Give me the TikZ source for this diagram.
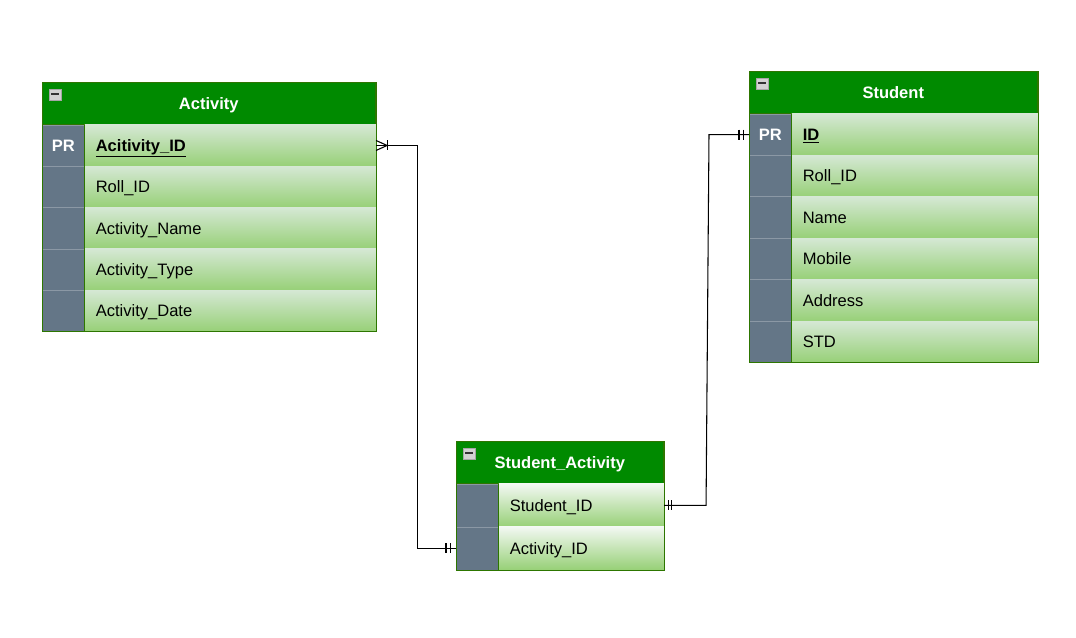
\documentclass[tikz,border=0pt]{standalone}
\usepackage{fontspec}
\setmainfont{Liberation Sans}
\usetikzlibrary{positioning,arrows.meta,calc}
\definecolor{erHead}{HTML}{008A00}
\definecolor{erLine}{HTML}{2D7600}
\definecolor{erKey}{HTML}{647687}
\definecolor{erTop}{HTML}{D5E8D4}
\definecolor{erBot}{HTML}{97D077}
\newcommand{\erpk}[1]{\textbf{\underline{#1}}}
\tikzset{
  erhead/.style={
    draw=erLine, fill=erHead, text=white, font=\fontsize{12.4}{14}\selectfont\bfseries,
    minimum height=31.5pt, inner sep=0pt, text height=8.9pt, text depth=0pt, anchor=north west
  },
  erkey/.style={
    draw=erKey!75!white, fill=erKey, text=white, font=\fontsize{12.4}{14}\selectfont\bfseries,
    minimum width=31.5pt, minimum height=31pt, inner sep=0pt, text height=8.9pt, text depth=0pt, anchor=north west
  },
  erfield/.style={
    top color=erTop, bottom color=erBot, font=\fontsize{12.4}{14}\selectfont,
    minimum height=31pt, inner xsep=8.25pt, inner ysep=0pt, text height=8.9pt, text depth=0pt,
    align=left, anchor=north west
  },
  erframe/.style={draw=erLine, line width=0.6pt},
  minusbox/.style={
    draw=gray!70, fill=gray!35, minimum width=9pt, minimum height=8.25pt, inner sep=0pt
  },
  erlink/.style={draw=black, line width=0.8pt}
}
\begin{document}
\begin{tikzpicture}[x=1pt,y=1pt]
  \useasboundingbox (0,0) rectangle (807,-477.75);

  % Activity table
  \node[erhead, minimum width=249.75pt] (act) at (31.5,-61.5) {Activity};
  \node[minusbox, below right=5pt and 5pt of act.north west] (act-min) {\textcolor{black!80}{\rule[0.2pt]{5.5pt}{1.3pt}}};
  \foreach \k/\f [count=\i] in {PR/\erpk{Acitivity\_ID}, /Roll\_ID, /Activity\_Name, /Activity\_Type, /Activity\_Date} {
    \node[erkey] (act-k\i) at ([yshift={-(\i-1)*31pt}]act.south west) {\k};
    \node[erfield, text width=201.75pt] (act-f\i) at (act-k\i.north east) {\f};
  }
  \draw[erframe] (act.north west) rectangle (act-f5.south east);
  \draw[erframe] (act-k1.north east) -- (act-k5.south east);

  % Student table
  \node[erhead, minimum width=216pt] (stu) at (561.75,-53.25) {Student};
  \node[minusbox, below right=5pt and 5pt of stu.north west] (stu-min) {\textcolor{black!80}{\rule[0.2pt]{5.5pt}{1.3pt}}};
  \foreach \k/\f [count=\i] in {PR/\erpk{ID}, /Roll\_ID, /Name, /Mobile, /Address, /STD} {
    \node[erkey, minimum height=31.1pt] (stu-k\i) at ([yshift={-(\i-1)*31.1pt}]stu.south west) {\k};
    \node[erfield, minimum height=31.1pt, text width=168pt] (stu-f\i) at (stu-k\i.north east) {\f};
  }
  \draw[erframe] (stu.north west) rectangle (stu-f6.south east);
  \draw[erframe] (stu-k1.north east) -- (stu-k6.south east);

  % Student_Activity table
  \node[erhead, minimum width=155.25pt] (sa) at (342,-330.75) {Student\_Activity};
  \node[minusbox, below right=5pt and 5pt of sa.north west] (sa-min) {\textcolor{black!80}{\rule[0.2pt]{5.5pt}{1.3pt}}};
  \foreach \k/\f [count=\i] in {/Student\_ID, /Activity\_ID} {
    \node[erkey, minimum height=32.25pt] (sa-k\i) at ([yshift={-(\i-1)*32.25pt}]sa.south west) {\k};
    \node[erfield, top color=erTop!30!white, minimum height=32.25pt, text width=107.25pt] (sa-f\i) at (sa-k\i.north east) {\f};
  }
  \draw[erframe] (sa.north west) rectangle (sa-f2.south east);
  \draw[erframe] (sa-k1.north east) -- (sa-k2.south east);

  % relations
  \draw[erlink] (act-f1.east) -- ++(30.75,0) |- (sa-k2.west);
  \draw[erlink] (sa-f1.east) -- ++(31.5,0) -- ([xshift=-30pt]stu-k1.west) -- (stu-k1.west);

  % crow's foot at Activity
  \draw[erlink] ([yshift=3.75pt]act-f1.east) -- ([xshift=8.25pt]act-f1.east) -- ([yshift=-3.75pt]act-f1.east);
  \draw[erlink] ([xshift=8.25pt,yshift=3.75pt]act-f1.east) -- ([xshift=8.25pt,yshift=-3.75pt]act-f1.east);

  % double bars
  \foreach \d in {-7.5,-4}
    \draw[erlink] ([xshift=\d pt,yshift=3.75pt]sa-k2.west) -- ([xshift=\d pt,yshift=-3.75pt]sa-k2.west);
  \foreach \d in {-7.5,-4.25}
    \draw[erlink] ([xshift=\d pt,yshift=3.75pt]stu-k1.west) -- ([xshift=\d pt,yshift=-3.75pt]stu-k1.west);
  \foreach \d in {3,5.5}
    \draw[erlink] ([xshift=\d pt,yshift=3.75pt]sa-f1.east) -- ([xshift=\d pt,yshift=-3.75pt]sa-f1.east);
\end{tikzpicture}
\end{document}
